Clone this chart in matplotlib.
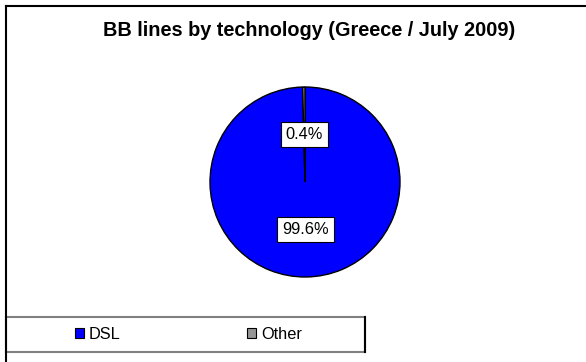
import matplotlib.pyplot as plt
from matplotlib.patches import Patch, Rectangle
from matplotlib.lines import Line2D

plt.rcParams['font.family'] = ['Liberation Sans', 'DejaVu Sans']

labels = ['DSL', 'Other']
shares = [99.6, 0.4]
colors = ['#0000FF', '#969696']
title = 'BB lines by technology (Greece / July 2009)'

W, H = 586, 362
fig = plt.figure(figsize=(W / 100, H / 100), dpi=100)

# outer chart frame (only left and top edges are visible)
fig.add_artist(Line2D([6 / W, 6 / W], [0, 1 - 6 / H], color='black', lw=1.5))
fig.add_artist(Line2D([6 / W, 1], [1 - 6 / H, 1 - 6 / H], color='black', lw=1.5))

fig.text(309 / W, 1 - 31 / H, title, ha='center', va='center',
         fontsize=14.3, fontweight='bold')

# pie centred at (305, 182) px, radius 95 px
cx, cy, r = 305, H - 182, 95
half = r * 1.05
ax = fig.add_axes([(cx - half) / W, (cy - half) / H, 2 * half / W, 2 * half / H])
wedges, texts, autotexts = ax.pie(
    shares, colors=colors, startangle=90, counterclock=False,
    autopct='%.1f%%', pctdistance=0.5,
    wedgeprops=dict(edgecolor='black', linewidth=1))
for t in autotexts:
    t.set_fontsize(11.8)
    t.set_bbox(dict(boxstyle='square,pad=0.3', fc='white', ec='black', lw=0.8))
ax.set_xlim(-1.05, 1.05)
ax.set_ylim(-1.05, 1.05)
ax.set_aspect('equal')
ax.axis('off')

# legend box
fig.add_artist(Rectangle((6 / W, 1 - 352 / H), 359 / W, 35 / H,
                         transform=fig.transFigure, fill=False,
                         edgecolor='#808080', lw=1.5))
fig.add_artist(Line2D([365 / W, 365 / W], [1 - 352 / H, 1 - 317 / H],
                      color='black', lw=1.5))
handles = [Patch(facecolor=c, edgecolor='black', lw=0.8) for c in colors]
fig.legend(handles, labels, loc='center', ncol=2, frameon=False,
           bbox_to_anchor=(188.5 / W, 1 - 334.5 / H), fontsize=11.8,
           handlelength=0.55, handleheight=0.55, handletextpad=0.3,
           columnspacing=7.7, borderpad=0, borderaxespad=0)

fig.savefig('out.png', dpi=100, facecolor='white')
